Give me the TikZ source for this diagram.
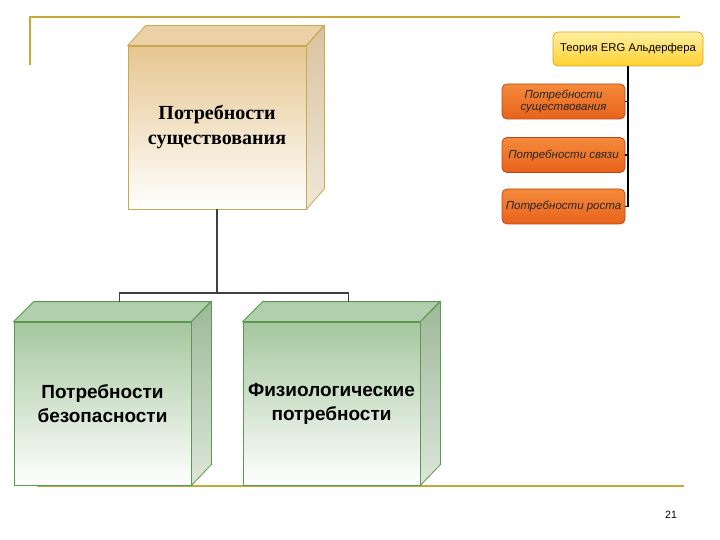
\documentclass[tikz,border=0pt]{standalone}
\usepackage{fontspec}
\setmainfont{Liberation Serif}
\newfontfamily\sansf{Liberation Sans}
\usetikzlibrary{calc}
\definecolor{gold}{HTML}{C9A83A}
\definecolor{tanedge}{HTML}{C8A850}
\definecolor{tantop}{HTML}{E6C690}
\definecolor{tanside}{HTML}{D9C3A0}
\definecolor{greenedge}{HTML}{5A9A50}
\definecolor{greentop}{HTML}{A5C79E}
\definecolor{greenside}{HTML}{9DB898}
\definecolor{ergtop}{HTML}{FFF0A0}
\definecolor{ergbot}{HTML}{FFD030}
\definecolor{ergedge}{HTML}{E0A020}
\definecolor{ortop}{HTML}{F58A3C}
\definecolor{orbot}{HTML}{E8621A}
\definecolor{oredge}{HTML}{B84810}
\tikzset{
  frameline/.style={draw=gold, line width=2.2pt},
  tanbox/.style={draw=tanedge, line width=0.8pt, top color=tantop, bottom color=white,
    minimum width=178pt, minimum height=163pt, inner sep=0pt, align=center,
    font=\bfseries\fontsize{20}{25}\selectfont},
  greenbox/.style={draw=greenedge, line width=0.8pt, top color=greentop, bottom color=white,
    minimum width=177pt, minimum height=163pt, inner sep=0pt, align=center,
    font=\sansf\bfseries\fontsize{19}{24}\selectfont},
  conn/.style={draw=black!75, line width=1.3pt},
  ergbox/.style={draw=ergedge, line width=0.8pt, rounded corners=5pt, top color=ergtop, bottom color=ergbot,
    minimum width=150pt, minimum height=34pt, inner sep=0pt, font=\sansf\fontsize{11.3}{13}\selectfont},
  orbox/.style={draw=oredge, line width=0.8pt, rounded corners=5pt, top color=ortop, bottom color=orbot,
    minimum width=123pt, minimum height=35pt, inner sep=0pt, align=center,
    font=\sansf\itshape\fontsize{11.5}{12.5}\selectfont, text=black!85},
  tree/.style={draw=black, line width=1.5pt},
}
\begin{document}
\begin{tikzpicture}[x=1pt,y=-1pt]
\useasboundingbox (0,0) rectangle (720,540);
% slide frame
\draw[frameline] (30,65) -- (30,17) -- (680,17);
\draw[frameline] (37,486) -- (684,486);
% top 3D box
\node[tanbox] (exist) at (217,127.5) {Потребности\\существования};
\fill[tantop!80!white, draw=tanedge, line width=0.8pt] (exist.north west) -- ++(18,-20) -- ++(178,0) -- (exist.north east) -- cycle;
\shade[top color=tanside, bottom color=tanside!40!white, draw=tanedge, line width=0.8pt] (exist.north east) -- ++(18,-20) -- ++(0,163) -- (exist.south east) -- cycle;
% bottom 3D boxes
\node[greenbox] (safe) at (102.5,403.5) {Потребности\\безопасности};
\node[greenbox] (phys) at (331.5,403.5) {Физиологические\\потребности};
\foreach \b in {safe,phys}{
  \fill[greentop!85!white, draw=greenedge, line width=0.8pt] (\b.north west) -- ++(20,-20) -- ++(177,0) -- (\b.north east) -- cycle;
  \shade[top color=greenside, bottom color=greenside!35!white, draw=greenedge, line width=0.8pt] (\b.north east) -- ++(20,-20) -- ++(0,163) -- (\b.south east) -- cycle;
}
% connectors
\coordinate (jn) at (217,293);
\draw[conn] (exist.south) -- (jn);
\draw[conn] ([shift={(17pt,20pt)}]safe.north) |- (jn) -| ([shift={(17pt,20pt)}]phys.north);
% ERG tree
\node[ergbox] (erg) at (628,49) {Теория ERG Альдерфера};
\node[orbox] (b1) at (563.5,101.5) {Потребности\\существования};
\node[orbox] (b2) at (563.5,155) {Потребности связи};
\node[orbox] (b3) at (563.5,206.5) {Потребности роста};
\draw[tree] (erg.south) |- (b3.east);
\draw[tree] (b1.east) -- (b1.east -| erg.south);
\draw[tree] (b2.east) -- (b2.east -| erg.south);
% page number
\node[font=\sansf\fontsize{10.5}{12}\selectfont] (pg) at (671,515) {21};
\end{tikzpicture}
\end{document}
